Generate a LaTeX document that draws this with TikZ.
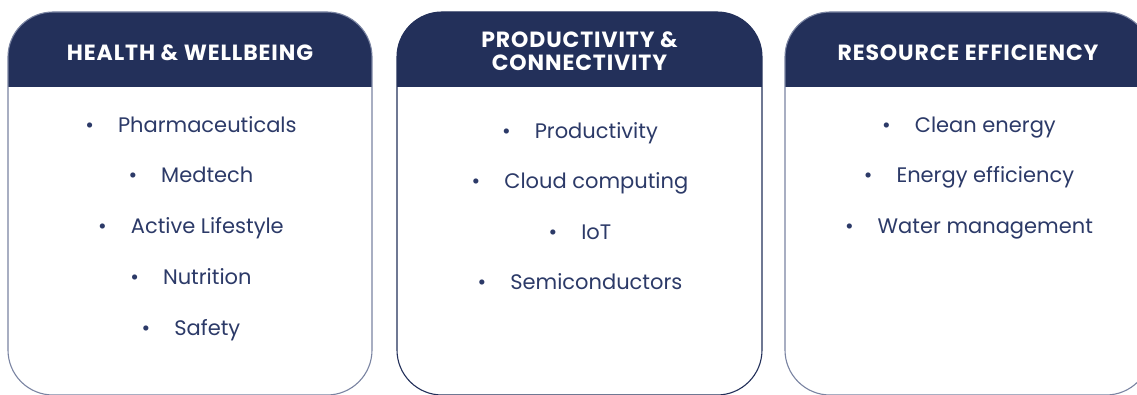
\documentclass[tikz,border=0pt]{standalone}
\usepackage{fontspec}
\setmainfont{Poppins}
\newfontfamily\headfont[LetterSpace=4]{Poppins Bold}
\definecolor{navy}{RGB}{35,48,90}
\definecolor{itemtxt}{RGB}{44,58,104}
\definecolor{edge}{RGB}{122,132,162}
\begin{document}
\begin{tikzpicture}[x=1pt,y=-1pt,
  headtxt/.style={text=white,font=\headfont\fontsize{22}{23}\selectfont,align=center,inner sep=0pt},
  item/.style={text=itemtxt,font=\fontsize{21}{23}\selectfont,inner sep=0pt,anchor=base},
  cardedge/.style={line width=1.1pt,rounded corners=45pt}]
\useasboundingbox (0,0) rectangle (1137,395);
\fill[white] (0,0) rectangle (1137,395);
\newcommand\card[3]{%
  \begin{scope}
    \clip[rounded corners=45pt] (#1,12) rectangle (#2,395);
    \fill[navy] (#1,11) rectangle (#2,87);
  \end{scope}
  \draw[cardedge,draw=#3] (#1,12) rectangle (#2,395);
}
\card{8}{372}{edge}
\card{397}{762}{navy}
\card{785}{1151}{edge}
\node[headtxt] (h1) at (190,53) {HEALTH \& WELLBEING};
\node[headtxt] (h2) at (579.5,51.5) {PRODUCTIVITY \&\\CONNECTIVITY};
\node[headtxt] (h3) at (968,53) {RESOURCE EFFICIENCY};
\newcommand\itm[4]{\node[item] (#1) at (#2,#3) {\textbullet\hspace{24pt}#4};}
\itm{a1}{191}{133}{Pharmaceuticals}
\itm{a2}{191}{183}{Medtech}
\itm{a3}{191}{234}{Active Lifestyle}
\itm{a4}{191}{284}{Nutrition}
\itm{a5}{191}{335}{Safety}
\itm{b1}{580}{139}{Productivity}
\itm{b2}{580}{189}{Cloud computing}
\itm{b3}{580}{240}{IoT}
\itm{b4}{580}{290}{Semiconductors}
\itm{c1}{969}{133}{Clean energy}
\itm{c2}{969}{183}{Energy efficiency}
\itm{c3}{969}{234}{Water management}
\end{tikzpicture}
\end{document}
